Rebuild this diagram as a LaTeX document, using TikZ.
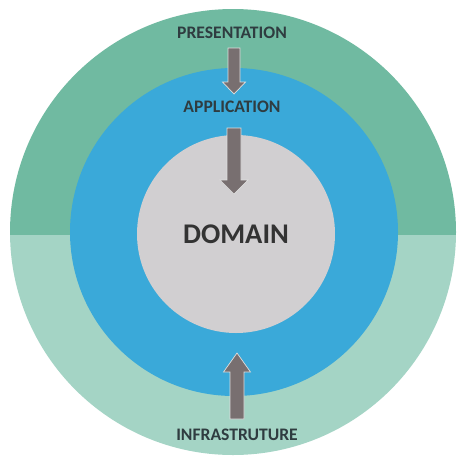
\documentclass[tikz,border=0pt]{standalone}
\usepackage{fontspec}
\setmainfont{Carlito}
\definecolor{presc}{HTML}{70BAA1}
\definecolor{infrac}{HTML}{A4D4C5}
\definecolor{appc}{HTML}{3AA9D9}
\definecolor{domc}{HTML}{D1CFD1}
\definecolor{arrowc}{HTML}{786F70}
\definecolor{labelc}{HTML}{2F3C40}
\definecolor{domtextc}{HTML}{333333}
% block arrow: centre x, start y, head base y, tip y, shaft width, head width
\newcommand{\blkarrow}[6]{%
  \filldraw[arrowshape]
    ({#1-#5/2},#2) -- ({#1+#5/2},#2) -- ({#1+#5/2},#3) -- ({#1+#6/2},#3)
    -- (#1,#4) -- ({#1-#6/2},#3) -- ({#1-#5/2},#3) -- cycle;}
\begin{document}
\begin{tikzpicture}[x=1pt,y=-1pt,
  layertext/.style={font=\bfseries\fontsize{17.6}{17.6}\selectfont, text=labelc, inner sep=0pt},
  coretext/.style={font=\bfseries\fontsize{28.5}{28.5}\selectfont, text=domtextc, inner sep=0pt},
  arrowshape/.style={fill=arrowc, draw=white!75!gray, line width=0.7pt, line join=miter}]
\useasboundingbox (0,0) rectangle (460,456);
\fill[white] (0,0) rectangle (460,456);

% outer ring: presentation (upper half) and infrastructure (lower half)
\begin{scope}
  \clip (0,0) rectangle (460,235);
  \fill[presc] (233,232) circle[radius=223];
\end{scope}
\begin{scope}
  \clip (0,235) rectangle (460,456);
  \fill[infrac] (233,232) circle[radius=223];
\end{scope}

% application ring and domain core
\fill[appc] (234,232) circle[radius=164];
\fill[domc] (236,234) circle[radius=99];

% labels
\node[layertext] (pres) at (232,33) {PRESENTATION};
\node[layertext] (app) at (232,107) {APPLICATION};
\node[coretext] (dom) at (236,234) {DOMAIN};
\node[layertext] (infra) at (237,435) {INFRASTRUTURE};

% dependency arrows
\blkarrow{234}{48}{82}{94}{12}{23}
\blkarrow{234}{128}{180}{194}{14}{28}
\blkarrow{237}{419}{372}{353}{14}{27}
\end{tikzpicture}
\end{document}
